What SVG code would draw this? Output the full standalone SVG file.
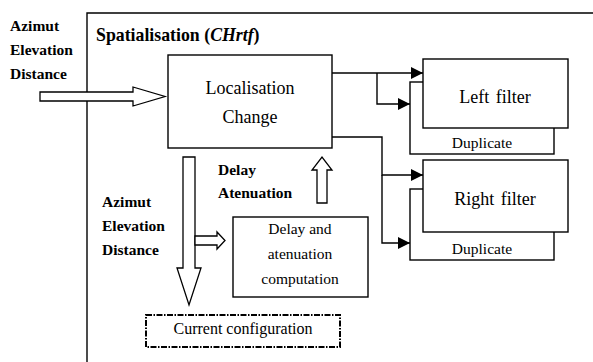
<svg xmlns="http://www.w3.org/2000/svg" width="593" height="362" viewBox="0 0 593 362" font-family="Liberation Serif, Times New Roman, serif">
  <defs>
    <style>
      .box { fill: #fff; stroke: #000; stroke-width: 1.4; }
      .hollow { fill: #fff; stroke: #000; stroke-width: 1.3; stroke-linejoin: miter; }
      .wire { fill: none; stroke: #000; stroke-width: 1.4; }
      .t { fill: #000; }
      .b { font-weight: bold; font-size: 15.5px; }
      .c { text-anchor: middle; }
      .dash { fill: #fff; stroke: #000; stroke-width: 2; stroke-dasharray: 6 1.5 1.5 1.5; }
    </style>
    <marker id="tri" markerWidth="12" markerHeight="12" refX="12" refY="6" orient="auto" markerUnits="userSpaceOnUse">
      <path d="M0,0 L12,6 L0,12 Z" fill="#000"/>
    </marker>
  </defs>

  <rect width="593" height="362" fill="#fff"/>

  <!-- enclosing frame -->
  <g id="frame">
    <path d="M87,362 V13 H593" fill="none" stroke="#000" stroke-width="1.4"/>
    <text class="t" x="96" y="41" font-size="17.8" font-weight="bold">Spatialisation (<tspan font-style="italic">CHrtf</tspan>)</text>
  </g>

  <!-- input parameters -->
  <g id="input-labels">
    <text class="t b" x="10" y="31">Azimut</text>
    <text class="t b" x="10" y="55">Elevation</text>
    <text class="t b" x="10" y="79">Distance</text>
  </g>

  <!-- duplicate filters (behind) -->
  <g id="left-duplicate">
    <rect class="box" x="410" y="82" width="144" height="72"/>
    <text class="t c" x="482" y="148" font-size="15.5">Duplicate</text>
  </g>
  <g id="right-duplicate">
    <rect class="box" x="410" y="189" width="144" height="71"/>
    <text class="t c" x="482" y="254" font-size="15.5">Duplicate</text>
  </g>

  <!-- main filters -->
  <g id="left-filter">
    <rect class="box" x="423" y="59" width="145" height="69"/>
    <text class="t c" x="495" y="103" font-size="18" word-spacing="2">Left filter</text>
  </g>
  <g id="right-filter">
    <rect class="box" x="423" y="160" width="145" height="72"/>
    <text class="t c" x="495" y="205" font-size="18" word-spacing="2">Right filter</text>
  </g>

  <g id="localisation">
    <rect class="box" x="168" y="55" width="164" height="93"/>
    <text class="t c" x="250" y="94" font-size="18">Localisation</text>
    <text class="t c" x="250" y="123" font-size="18">Change</text>
  </g>

  <g id="delay-computation">
    <rect class="box" x="233" y="217" width="135" height="80"/>
    <text class="t c" x="300" y="234" font-size="15.5">Delay and</text>
    <text class="t c" x="300" y="259" font-size="15.5">atenuation</text>
    <text class="t c" x="300" y="284" font-size="15.5">computation</text>
  </g>

  <g id="current-configuration">
    <rect class="dash" x="146" y="315" width="194" height="32"/>
    <text class="t c" x="243" y="334" font-size="16">Current configuration</text>
  </g>

  <g id="inner-labels">
    <text class="t b" x="218" y="175">Delay</text>
    <text class="t b" x="218" y="198">Atenuation</text>
    <text class="t b" x="102" y="207">Azimut</text>
    <text class="t b" x="102" y="231">Elevation</text>
    <text class="t b" x="102" y="255">Distance</text>
  </g>

  <!-- connectors -->
  <g id="connectors">
    <path class="wire" d="M332,73 H423" marker-end="url(#tri)"/>
    <path class="wire" d="M377,73 V104 H410" marker-end="url(#tri)"/>
    <path class="wire" d="M332,137 H382 V175 H423" marker-end="url(#tri)"/>
    <path class="wire" d="M382,175 V243 H410" marker-end="url(#tri)"/>
    <!-- hollow block arrows -->
    <path class="hollow" d="M40,92 H133 V87 L165,96.5 L133,106 V101 H40 Z"/>
    <path class="hollow" d="M183,157 H195 V268 H201 L189,305 L177,268 H183 Z"/>
    <path class="hollow" d="M195,236 H217 V232 L225,240.5 L217,249 V245 H195 Z"/>
    <path class="hollow" d="M317,203 V170 H312 L322,157 L332,170 H327 V203 Z"/>
  </g>
</svg>
